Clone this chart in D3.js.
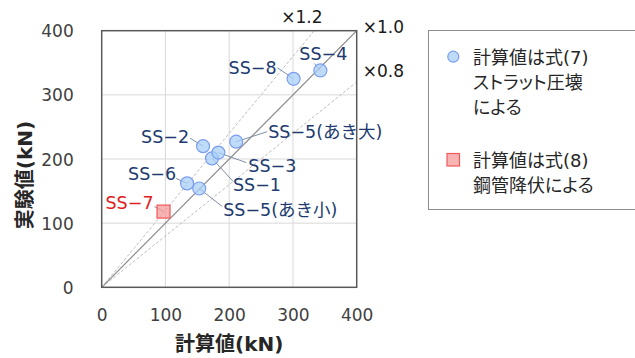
<!DOCTYPE html>
<html>
<head>
<meta charset="utf-8">
<script src="https://cdn.jsdelivr.net/npm/d3@7"></script>
<style>
  html, body { margin: 0; padding: 0; background: #fff; }
  svg { display: block; }
  text { font-family: "DejaVu Sans", "Noto Sans CJK JP", sans-serif; }
  .legend-text { font-feature-settings: "palt"; }
</style>
</head>
<body>
<svg id="chart" width="635" height="358"></svg>
<script>
// Specimen names, calculated strength and test strength (kN)
const specimens = ["SS-1", "SS-2", "SS-3", "SS-4", "SS-5(あき大)", "SS-5(あき小)", "SS-6", "SS-7", "SS-8"];
const calcValues = [173, 159, 183, 343, 211, 153, 134, 97, 301];
const testValues = [201, 220, 210, 338, 227, 154, 162, 118, 325];
// Failure mode governing the calculated value: "strut" = eq.(7), "steel" = eq.(8)
const modes = ["strut", "strut", "strut", "strut", "strut", "strut", "strut", "steel", "strut"];
const displayNames = ["SS−1", "SS−2", "SS−3", "SS−4", "SS−5(あき大)", "SS−5(あき小)", "SS−6", "SS−7", "SS−8"];

const tickValues = [0, 100, 200, 300, 400];
const ratioLines = [1.2, 1.0, 0.8];
const ratioLabels = ["×1.2", "×1.0", "×0.8"];

const xTitle = "計算値(kN)";
const yTitle = "実験値(kN)";
const legendStrut = ["計算値は式(7)", "ストラット圧壊", "による"];
const legendSteel = ["計算値は式(8)", "鋼管降伏による"];

// Label placement around each point: text anchor, text offset, leader start offset (px)
const labelLayout = {
  "SS-1":        { anchor: "start",  dx: 21,  dy: 33,  lx: 21,  ly: 23 },
  "SS-2":        { anchor: "end",    dx: -14, dy: -3,  lx: -13, ly: -8 },
  "SS-3":        { anchor: "start",  dx: 30,  dy: 19,  lx: 28,  ly: 10 },
  "SS-4":        { anchor: "middle", dx: 3,   dy: -10, lx: -6,  ly: -7 },
  "SS-5(あき大)": { anchor: "start",  dx: 32,  dy: -4,  lx: 31,  ly: -10 },
  "SS-5(あき小)": { anchor: "start",  dx: 24,  dy: 27,  lx: 23,  ly: 18 },
  "SS-6":        { anchor: "end",    dx: -11, dy: -3,  lx: -11, ly: -5 },
  "SS-7":        { anchor: "end",    dx: -10, dy: -3,  lx: -9,  ly: -5 },
  "SS-8":        { anchor: "end",    dx: -17, dy: -5,  lx: -16, ly: -11 }
};

const svg = d3.select("#chart");
const plot = { left: 101.7, right: 356.7, top: 30.7, bottom: 287.3 };

const x = d3.scaleLinear().domain([0, 400]).range([plot.left, plot.right]);
const y = d3.scaleLinear().domain([0, 400]).range([plot.bottom, plot.top]);

// Grid lines
const grid = svg.append("g");
grid.selectAll("line.vx").data(tickValues.slice(1, -1)).join("line")
  .attr("x1", d => x(d)).attr("x2", d => x(d))
  .attr("y1", plot.top).attr("y2", plot.bottom)
  .attr("stroke", "#d9d9d9").attr("stroke-width", 1);
grid.selectAll("line.hy").data(tickValues.slice(1, -1)).join("line")
  .attr("x1", plot.left).attr("x2", plot.right)
  .attr("y1", d => y(d)).attr("y2", d => y(d))
  .attr("stroke", "#d9d9d9").attr("stroke-width", 1);

// Axes (labels only)
const xAxis = svg.append("g")
  .attr("transform", `translate(0,${plot.bottom + 22})`)
  .call(d3.axisBottom(x).tickValues(tickValues).tickSize(0).tickPadding(0));
xAxis.select(".domain").remove();
xAxis.selectAll("text").attr("font-size", 17).attr("fill", "#404040")
  .attr("font-family", "DejaVu Sans, sans-serif").attr("dy", "0.71em").attr("y", 0);

const yAxis = svg.append("g")
  .attr("transform", `translate(${plot.left - 28},0)`)
  .call(d3.axisLeft(y).tickValues(tickValues).tickSize(0).tickPadding(0));
yAxis.select(".domain").remove();
yAxis.selectAll("text").attr("font-size", 17).attr("fill", "#404040")
  .attr("font-family", "DejaVu Sans, sans-serif").attr("dy", "0.36em");

// Ratio reference lines
svg.append("clipPath").attr("id", "plotClip").append("rect")
  .attr("x", plot.left).attr("y", plot.top)
  .attr("width", plot.right - plot.left).attr("height", plot.bottom - plot.top);

const refs = svg.append("g").attr("clip-path", "url(#plotClip)");
ratioLines.forEach((k, i) => {
  refs.append("line")
    .attr("x1", x(0)).attr("y1", y(0))
    .attr("x2", x(400)).attr("y2", y(400 * k))
    .attr("stroke", k === 1 ? "#8c8c8c" : "#b4b4b4")
    .attr("stroke-width", k === 1 ? 1.2 : 0.9)
    .attr("stroke-dasharray", k === 1 ? null : "3,2");
});

// Ratio labels
const ratioPos = [
  { x: x(400 / 1.2) - 33, y: 23 },
  { x: plot.right + 6, y: 32.5 },
  { x: plot.right + 6, y: 77 }
];
ratioLabels.forEach((t, i) => {
  svg.append("text").attr("x", ratioPos[i].x).attr("y", ratioPos[i].y)
    .attr("font-size", 17).attr("fill", "#1a1a1a").text(t);
});

// Leader lines
const data = specimens.map((s, i) => ({
  key: s, name: displayNames[i], cx: calcValues[i], ex: testValues[i], mode: modes[i]
}));

svg.append("g").selectAll("line").data(data).join("line")
  .attr("x1", d => x(d.cx) + labelLayout[d.key].lx)
  .attr("y1", d => y(d.ex) + labelLayout[d.key].ly)
  .attr("x2", d => x(d.cx)).attr("y2", d => y(d.ex))
  .attr("stroke", "#7f8fa8").attr("stroke-width", 1);

// Markers
const marks = svg.append("g");
marks.selectAll("circle").data(data.filter(d => d.mode === "strut")).join("circle")
  .attr("cx", d => x(d.cx)).attr("cy", d => y(d.ex)).attr("r", 6.5)
  .attr("fill", "#a8d0f8").attr("fill-opacity", 0.75)
  .attr("stroke", "#7b9cf0").attr("stroke-width", 1.2);
marks.selectAll("rect").data(data.filter(d => d.mode === "steel")).join("rect")
  .attr("x", d => x(d.cx) - 6.5).attr("y", d => y(d.ex) - 6.5)
  .attr("width", 13).attr("height", 13)
  .attr("fill", "#f59a9a").attr("fill-opacity", 0.75)
  .attr("stroke", "#f05a5a").attr("stroke-width", 1.2);

// Point labels
svg.append("g").selectAll("text").data(data).join("text")
  .attr("x", d => x(d.cx) + labelLayout[d.key].dx)
  .attr("y", d => y(d.ex) + labelLayout[d.key].dy)
  .attr("text-anchor", d => labelLayout[d.key].anchor)
  .attr("font-size", 17.5)
  .attr("fill", d => d.mode === "steel" ? "#e02020" : "#203a70")
  .text(d => d.name);

// Plot border
svg.append("rect")
  .attr("x", plot.left).attr("y", plot.top)
  .attr("width", plot.right - plot.left).attr("height", plot.bottom - plot.top)
  .attr("fill", "none").attr("stroke", "#595959").attr("stroke-width", 1.5);

// Axis titles
svg.append("text").attr("x", (plot.left + plot.right) / 2).attr("y", 351)
  .attr("text-anchor", "middle").attr("font-size", 20).attr("font-weight", "bold")
  .attr("fill", "#262626").text(xTitle);
svg.append("text")
  .attr("transform", "translate(32,175) rotate(-90)")
  .attr("text-anchor", "middle").attr("font-size", 20).attr("font-weight", "bold")
  .attr("fill", "#262626").text(yTitle);

// Legend
const legend = svg.append("g");
legend.append("rect").attr("x", 428.5).attr("y", 30.5)
  .attr("width", 220).attr("height", 179)
  .attr("fill", "#fff").attr("stroke", "#8c8c8c").attr("stroke-width", 1);
legend.append("circle").attr("cx", 453.3).attr("cy", 56.7).attr("r", 5.5)
  .attr("fill", "#a8d0f8").attr("fill-opacity", 0.75)
  .attr("stroke", "#7b9cf0").attr("stroke-width", 1.2);
legend.append("rect").attr("x", 447).attr("y", 153.5).attr("width", 12.5).attr("height", 12.5)
  .attr("fill", "#f59a9a").attr("fill-opacity", 0.75)
  .attr("stroke", "#f05a5a").attr("stroke-width", 1.2);
legend.selectAll("text.s").data(legendStrut).join("text")
  .attr("class", "legend-text")
  .attr("x", 473).attr("y", (d, i) => 63.5 + i * 25)
  .attr("font-size", 18).attr("fill", "#262626").text(d => d);
legend.selectAll("text.t").data(legendSteel).join("text")
  .attr("class", "legend-text")
  .attr("x", 473).attr("y", (d, i) => 166.5 + i * 25)
  .attr("font-size", 18).attr("fill", "#262626").text(d => d);
</script>
</body>
</html>
